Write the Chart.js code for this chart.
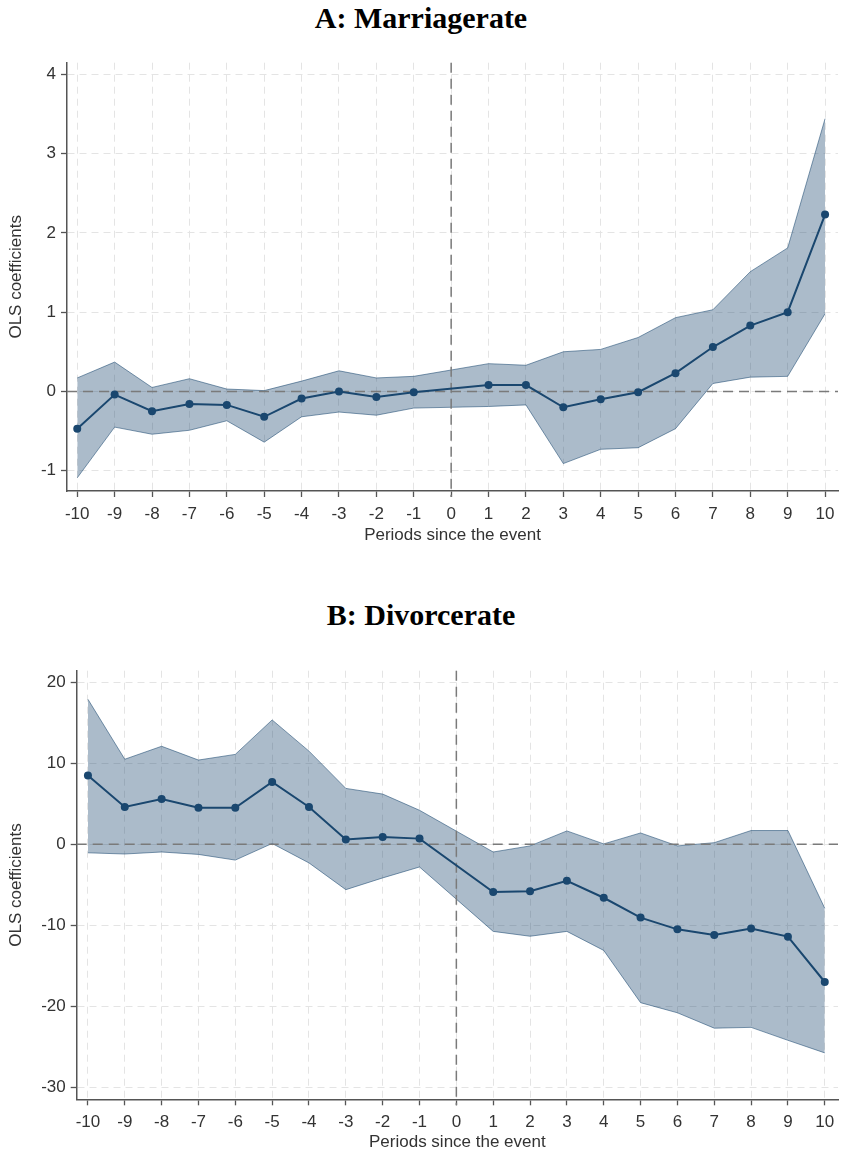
<!DOCTYPE html>
<html>
<head>
<meta charset="utf-8">
<script src="https://cdn.jsdelivr.net/npm/chart.js@4.4.1/dist/chart.umd.min.js"></script>
<style>
  html, body { margin: 0; padding: 0; background: #ffffff; }
  body { width: 842px; height: 1154px; position: relative; overflow: hidden; }
  .ptitle { position: absolute; left: 0; width: 842px; text-align: center;
            font-family: "Liberation Serif", "Times New Roman", serif; font-weight: bold;
            font-size: 30px; line-height: 30px; color: #000; z-index: 2; }
  .wrap { position: absolute; left: 0; }
  canvas { display: block; }
</style>
</head>
<body>
<div class="ptitle" style="top:3px;">A: Marriagerate</div>
<div class="wrap" style="top:43px;"><canvas id="chartA" width="842" height="503"></canvas></div>
<div class="ptitle" style="top:600px;">B: Divorcerate</div>
<div class="wrap" style="top:651px;"><canvas id="chartB" width="842" height="502"></canvas></div>
<script>
// ---- Data ----
const periods = [-10, -9, -8, -7, -6, -5, -4, -3, -2, -1, 1, 2, 3, 4, 5, 6, 7, 8, 9, 10];

const marriageCoef  = [-0.47, -0.04, -0.25, -0.16, -0.17, -0.32, -0.09, 0.00, -0.07, -0.01,
                        0.08, 0.08, -0.20, -0.10, -0.01, 0.23, 0.56, 0.83, 1.00, 2.23];
const marriageUpper = [0.17, 0.37, 0.05, 0.16, 0.03, 0.01, 0.13, 0.26, 0.17, 0.19,
                       0.35, 0.33, 0.50, 0.53, 0.68, 0.93, 1.03, 1.51, 1.81, 3.44];
const marriageLower = [-1.09, -0.45, -0.54, -0.49, -0.37, -0.64, -0.32, -0.26, -0.30, -0.21,
                       -0.19, -0.17, -0.91, -0.73, -0.71, -0.47, 0.10, 0.18, 0.19, 0.98];

const divorceCoef  = [8.5, 4.6, 5.6, 4.5, 4.5, 7.7, 4.6, 0.6, 0.9, 0.7,
                      -5.9, -5.8, -4.5, -6.6, -9.05, -10.5, -11.2, -10.4, -11.4, -17.0];
const divorceUpper = [17.9, 10.5, 12.1, 10.4, 11.1, 15.35, 11.5, 6.9, 6.2, 4.2,
                      -0.95, -0.2, 1.65, 0.05, 1.4, -0.2, 0.2, 1.7, 1.7, -7.9];
const divorceLower = [-1.05, -1.2, -0.95, -1.25, -1.95, 0.1, -2.3, -5.6, -4.15, -2.8,
                      -10.75, -11.35, -10.75, -13.1, -19.55, -20.8, -22.7, -22.6, -24.2, -25.75];

const xTicks = [-10, -9, -8, -7, -6, -5, -4, -3, -2, -1, 0, 1, 2, 3, 4, 5, 6, 7, 8, 9, 10];
const marriageYTicks = [-1, 0, 1, 2, 3, 4];
const divorceYTicks = [-30, -20, -10, 0, 10, 20];

const xTitle = 'Periods since the event';
const yTitle = 'OLS coefficients';

// ---- Styling / drawing ----
const NAVY = '#1a476f';
const toPts = arr => periods.map((p, i) => ({ x: p, y: arr[i] }));

const refLines = {
  id: 'refLines',
  beforeDatasetDraw(chart, args) {
    if (args.index !== 0) return;
    const { ctx, chartArea: a, scales: { x, y } } = chart;
    ctx.save();
    ctx.strokeStyle = '#7a7a7a';
    ctx.lineWidth = 1.5;
    ctx.setLineDash([10, 6]);
    const py = y.getPixelForValue(0);
    ctx.beginPath(); ctx.moveTo(a.left, py); ctx.lineTo(a.right, py); ctx.stroke();
    const px = x.getPixelForValue(0);
    ctx.beginPath(); ctx.moveTo(px, a.top); ctx.lineTo(px, a.bottom + 6); ctx.stroke();
    ctx.restore();
  }
};

function makeChart(id, coef, upper, lower, yTicks, opt) {
  const tickFont = { family: '"Liberation Sans", Arial, sans-serif', size: 17 };
  return new Chart(document.getElementById(id), {
    type: 'line',
    data: {
      datasets: [
        { data: toPts(coef), borderColor: NAVY, backgroundColor: NAVY, borderWidth: 2,
          pointRadius: 4, pointBackgroundColor: NAVY, pointBorderWidth: 0, fill: false, tension: 0 },
        { data: toPts(upper), borderColor: 'rgba(26,71,111,0.55)', borderWidth: 1, pointRadius: 0,
          backgroundColor: 'rgba(26,71,111,0.37)', fill: '+1', tension: 0 },
        { data: toPts(lower), borderColor: 'rgba(26,71,111,0.55)', borderWidth: 1, pointRadius: 0,
          fill: false, tension: 0 }
      ]
    },
    options: {
      responsive: false,
      animation: false,
      layout: { padding: { top: opt.padTop, left: 0, right: 0, bottom: 0 } },
      plugins: { legend: { display: false }, tooltip: { enabled: false } },
      scales: {
        x: {
          type: 'linear', min: opt.xMin, max: opt.xMax,
          afterBuildTicks: s => { s.ticks = xTicks.map(v => ({ value: v })); },
          afterFit: s => { s.height = opt.xAxisH; s.paddingLeft = 0; s.paddingRight = 0; },
          ticks: { font: tickFont, color: '#333', padding: 7, maxRotation: 0, autoSkip: false,
                   callback: v => String(v) },
          grid: { color: '#e4e4e4', lineWidth: 1, tickLength: 6, tickColor: '#555', tickWidth: 1.3 },
          border: { display: true, color: '#555', width: 1.5, dash: [7, 5] },
          title: { display: true, text: xTitle, color: '#333',
                   font: { family: '"Liberation Sans", Arial, sans-serif', size: 17 },
                   padding: { top: 0, bottom: 0 } }
        },
        y: {
          type: 'linear', min: opt.yMin, max: opt.yMax,
          afterBuildTicks: s => { s.ticks = yTicks.map(v => ({ value: v })); },
          afterFit: s => { s.width = opt.yAxisW; s.paddingTop = 0; s.paddingBottom = 0; },
          ticks: { font: tickFont, color: '#333', padding: 5, callback: v => String(v) },
          grid: { color: '#e4e4e4', lineWidth: 1, tickLength: 6, tickColor: '#555', tickWidth: 1.3 },
          border: { display: true, color: '#555', width: 1.5, dash: [7, 5] },
          title: { display: true, text: yTitle, color: '#333',
                   font: { family: '"Liberation Sans", Arial, sans-serif', size: 17 },
                   padding: { top: 6.3, bottom: 0 } }
        }
      }
    },
    plugins: [refLines]
  });
}

makeChart('chartA', marriageCoef, marriageUpper, marriageLower, marriageYTicks,
  { xMin: -10.274, xMax: 10.346, yMin: -1.256, yMax: 4.146, padTop: 19.7, xAxisH: 55, yAxisW: 67 });
makeChart('chartB', divorceCoef, divorceUpper, divorceLower, divorceYTicks,
  { xMin: -10.305, xMax: 10.359, yMin: -31.48, yMax: 21.43, padTop: 19.7, xAxisH: 53.7, yAxisW: 76.7 });
</script>
</body>
</html>
